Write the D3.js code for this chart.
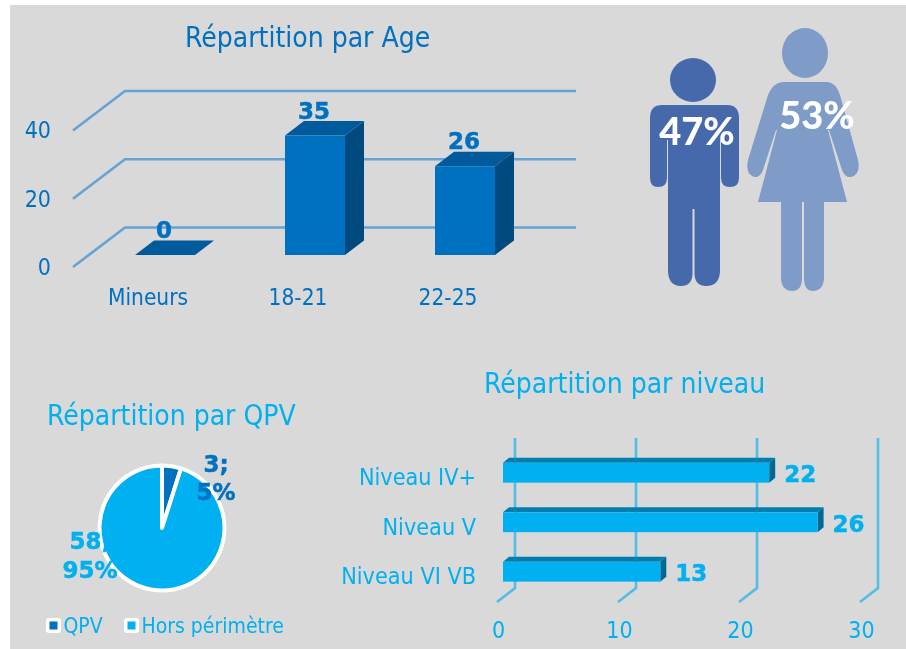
<!DOCTYPE html>
<html><head><meta charset="utf-8">
<script src="https://cdn.jsdelivr.net/npm/d3@7/dist/d3.min.js"></script>
<style>
html,body{margin:0;padding:0;background:#fff}
svg{display:block;filter:blur(0.45px)}
text{font-family:"DejaVu Sans Condensed","DejaVu Sans",sans-serif}
.b{font-family:"DejaVu Sans","DejaVu Sans Condensed",sans-serif;font-weight:700;stroke-width:.5px;paint-order:stroke}
.domain{display:none}
</style></head><body>
<svg id="c" width="906" height="649"></svg>
<script>
const ageCats = ["Mineurs","18-21","22-25"];
const ageVals = [0,35,26];
const ageTicks = [0,20,40];
const genderVals = [47,53];
const qpvCats = ["QPV","Hors périmètre"];
const qpvVals = [3,58];
const qpvPct = ["5%","95%"];
const nivCats = ["Niveau IV+","Niveau V","Niveau VI VB"];
const nivVals = [22,26,13];
const nivTicks = [0,10,20,30];

const DARK="#0070c0", LIGHT="#00b0f0";
const svg=d3.select("#c");
svg.append("rect").attr("x",10).attr("y",5).attr("width",896).attr("height",644).attr("fill","#d9d9d9");
const title=(t,x,y,c,s)=>svg.append("text").attr("x",x).attr("y",y).attr("fill",c).attr("font-size",s).text(t);
title("Répartition par Age",185,47,DARK,28);
title("Répartition par QPV",47,425,LIGHT,28);
title("Répartition par niveau",484,393,LIGHT,28);

/* Age chart */
const ay=d3.scaleLinear().domain([0,40]).range([267,130.5]);
const ax=d3.scaleBand().domain(ageCats).range([90,540]).paddingInner(.6).paddingOuter(.3);
const A={gx:52,gy:-39.5,bx:19,by:-14.5,base:-12};
const ag=svg.append("g");
ag.selectAll("path.grid").data(ageTicks).join("path").attr("fill","none").attr("stroke","#66a2d2").attr("stroke-width",2.6)
 .attr("d",t=>`M${73},${ay(t)}L${73+A.gx},${ay(t)+A.gy}H576`);
const ab=ag.selectAll("g.bar").data(ageVals).join("g");
ab.append("path").attr("fill","#004a80").attr("d",(v,i)=>{const x=ax(ageCats[i])+ax.bandwidth(),t=ay(v)+A.base,b=ay(0)+A.base;
 return `M${x},${t}l${A.bx},${A.by}V${b+A.by}L${x},${b}Z`;});
ab.append("path").attr("fill","#005a9c").attr("d",(v,i)=>{const x=ax(ageCats[i]),w=ax.bandwidth(),t=ay(v)+A.base;
 return `M${x},${t}l${A.bx},${A.by}h${w}l${-A.bx},${-A.by}Z`;});
ab.append("rect").attr("fill",DARK).attr("x",(v,i)=>ax(ageCats[i])).attr("width",ax.bandwidth())
 .attr("y",v=>ay(v)+A.base).attr("height",v=>ay(0)-ay(v));
ag.selectAll("text.val").data(ageVals).join("text").attr("class","b").attr("fill",DARK).attr("stroke",DARK).attr("font-size",23).attr("text-anchor","middle")
 .attr("x",(v,i)=>ax(ageCats[i])+ax.bandwidth()/2-1).attr("y",v=>ay(v)+A.base-17).text(d=>d);
const aya=svg.append("g").attr("transform","translate(55,0)").call(d3.axisLeft(ay).tickValues(ageTicks).tickSize(0).tickPadding(4));
aya.selectAll("text").attr("fill",DARK).attr("font-size",23).attr("font-family",'"DejaVu Sans Condensed"');
const axa=svg.append("g").attr("transform","translate(-17,289)").call(d3.axisBottom(ax).tickSize(0).tickPadding(0));
axa.selectAll("text").attr("fill",DARK).attr("font-size",22.5).attr("font-family",'"DejaVu Sans Condensed"');

/* Pictograms */
const man=svg.append("g").attr("fill","#4569ab");
man.append("ellipse").attr("cx",693).attr("cy",80).attr("rx",23).attr("ry",22);
man.append("path").attr("d","M662,105H727Q739,105 739,118V178Q739,187 730,187Q721,187 721,178V140H720V270Q720,286 706,286Q695,286 694.5,274V209H692.5V274Q692,286 681,286Q668,286 668,270V140H667V178Q667,187 658,187Q650,187 650,178V118Q650,105 662,105Z");
const wom=svg.append("g").attr("fill","#7f9bc8");
wom.append("ellipse").attr("cx",805).attr("cy",53).attr("rx",23).attr("ry",25);
wom.append("path").attr("d","M782,82H828Q836,83 840,95L858,160Q861,174 851,177Q845,178 842,170L829,130L828,130L847,202H824V277Q824,291 812,291Q805,291 804,280V202H802V280Q801,291 793,291Q781,291 781,277V202H758L777,130L776,130L763,170Q760,178 754,177Q745,174 748,160L768,95Q773,83 782,82Z");
svg.selectAll("text.pct").data(genderVals).join("text").attr("fill","#fff").attr("text-anchor","middle")
 .attr("font-size",38).attr("font-weight",900).style("font-family","Lato")
 .attr("x",(d,i)=>[697,817][i]).attr("y",(d,i)=>[145,129][i]).text(d=>d+"%");

/* Pie */
const pg=svg.append("g").attr("transform","translate(162,528)");
const arcs=d3.pie().sort(null)(qpvVals);
const arc=d3.arc().innerRadius(0).outerRadius(62.5);
pg.selectAll("path").data(arcs).join("path").attr("d",arc).attr("fill",(d,i)=>[DARK,LIGHT][i])
 .attr("stroke","#fff").attr("stroke-width",4).attr("stroke-linejoin","round");
const pl=svg.append("g").attr("class","pl");
const lab=[[216,[472,500]],[90,[549,578]]];
qpvVals.forEach((v,i)=>{
 [v+";",qpvPct[i]].forEach((t,j)=>pl.append("text").attr("class","b").attr("text-anchor","middle").attr("font-size",23)
  .attr("fill",[DARK,LIGHT][i]).attr("stroke",[DARK,LIGHT][i]).attr("x",lab[i][0]).attr("y",lab[i][1][j]).text(t));
});
const lg=svg.append("g");
const lx=[46,124];
qpvCats.forEach((c,i)=>{
 lg.append("rect").attr("x",lx[i]).attr("y",618).attr("width",15).attr("height",15).attr("rx",3).attr("fill","#fff");
 lg.append("rect").attr("x",lx[i]+3.5).attr("y",621.5).attr("width",8).attr("height",8).attr("fill",[DARK,LIGHT][i]);
 lg.append("text").attr("x",lx[i]+17.5).attr("y",633).attr("fill",LIGHT).attr("font-size",21).text(c);
});

/* Niveau chart */
const nx=d3.scaleLinear().domain([0,30]).range([497,860]);
const ny=d3.scaleBand().domain(nivCats).range([448,596.5]).paddingInner(.6).paddingOuter(.3);
const N={gx:18,gy:-14,fx:6,tx:6,ty:-5};
svg.selectAll("path.ngrid").data(nivTicks).join("path").attr("fill","none").attr("stroke","#55bce6").attr("stroke-width",2.6)
 .attr("d",t=>`M${nx(t)},602l${N.gx},${N.gy}V438`);
const nb=svg.selectAll("g.nbar").data(nivVals).join("g");
nb.append("path").attr("fill","#007fae").attr("d",(v,i)=>{const x=nx(0)+N.fx,y=ny(nivCats[i]);
 return `M${x},${y}l${N.tx},${N.ty}H${nx(v)+N.fx+N.tx}l${-N.tx},${-N.ty}Z`;});
nb.append("path").attr("fill","#006a94").attr("d",(v,i)=>{const x=nx(v)+N.fx,y=ny(nivCats[i]),h=ny.bandwidth();
 return `M${x},${y}l${N.tx},${N.ty}v${h}l${-N.tx},${-N.ty}Z`;});
nb.append("rect").attr("fill",LIGHT).attr("x",nx(0)+N.fx).attr("y",(v,i)=>ny(nivCats[i])).attr("height",ny.bandwidth())
 .attr("width",v=>nx(v)-nx(0));
nb.append("text").attr("class","b").attr("fill",LIGHT).attr("stroke",LIGHT).attr("font-size",23).attr("text-anchor","middle")
 .attr("x",v=>nx(v)+N.fx+31).attr("y",(v,i)=>ny(nivCats[i])+ny.bandwidth()/2+9.5).text(d=>d);
const nya=svg.append("g").attr("transform","translate(476,5)").call(d3.axisLeft(ny).tickSize(0).tickPadding(0));
nya.selectAll("text").attr("fill",LIGHT).attr("font-size",23.2).attr("font-family",'"DejaVu Sans Condensed"');
const nxa=svg.append("g").attr("transform","translate(1,622)").call(d3.axisBottom(nx).tickValues(nivTicks).tickSize(0).tickPadding(0));
nxa.selectAll("text").attr("fill",LIGHT).attr("font-size",23).attr("font-family",'"DejaVu Sans Condensed"');
</script>
</body></html>
